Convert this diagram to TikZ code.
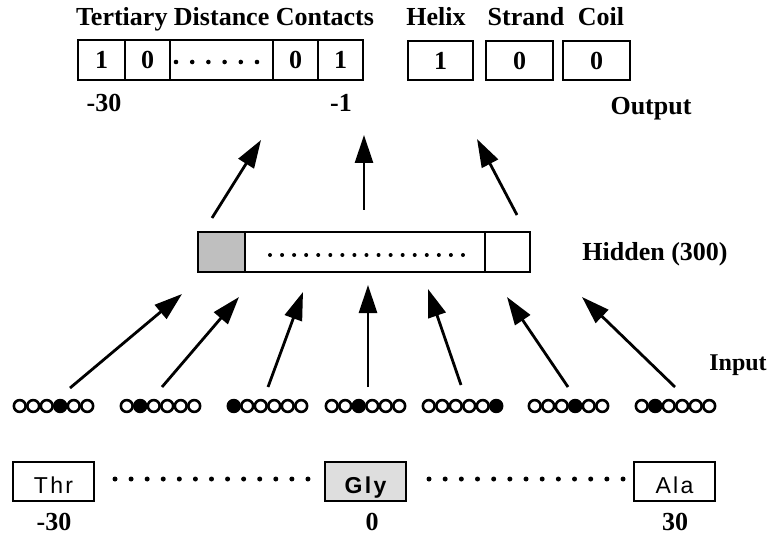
\documentclass[tikz,border=0pt]{standalone}
\usepackage{fontspec}
\setmainfont{Liberation Serif}
\newfontfamily\arialf{Liberation Sans}[LetterSpace=10]
\usetikzlibrary{arrows.meta}
\begin{document}
\begin{tikzpicture}[x=1pt,y=-1pt,
  box/.style={draw,line width=2.5pt,inner sep=0pt,font=\fontsize{26}{30}\selectfont\bfseries},
  lbl/.style={font=\fontsize{26}{30}\selectfont\bfseries,inner sep=0pt,anchor=base},
  aa/.style={box,minimum width=81pt,minimum height=39pt,text height=23pt,text depth=0pt,font=\fontsize{23}{26}\arialf},
  arr/.style={line width=2.8pt,-{Triangle[length=28pt,width=18pt]}},
  dotn/.style={fill,circle,inner sep=0pt,minimum size=4.6pt},
  ring/.style={draw,circle,line width=2.6pt,inner sep=0pt,minimum size=11.8pt}]
\useasboundingbox (0,0) rectangle (770,537);

% ---------- output layer ----------
\node[lbl] (ttl) at (225,26) {Tertiary Distance Contacts};
\node[box,minimum width=47pt,minimum height=40pt] (c1) at (101.5,60) {1};
\node[box,minimum width=45pt,minimum height=40pt] (c2) at (147.5,60) {0};
\node[box,minimum width=103pt,minimum height=40pt] (c3) at (221.5,60) {};
\node[box,minimum width=45pt,minimum height=40pt] (c4) at (295.5,60) {0};
\node[box,minimum width=45pt,minimum height=40pt] (c5) at (340.5,60) {1};
\foreach \i in {0,...,5} \node[dotn] (td\i) at (176+16.2*\i,62) {};

\node[lbl] (hx) at (436,26) {Helix};
\node[lbl] (st) at (526,26) {Strand};
\node[lbl] (cl) at (601,26) {Coil};
\node[box,minimum width=65pt,minimum height=39pt] (h1) at (440.5,60.5) {1};
\node[box,minimum width=67pt,minimum height=39pt] (h2) at (519.5,60.5) {0};
\node[box,minimum width=67pt,minimum height=39pt] (h3) at (596.5,60.5) {0};

\node[lbl] (m30) at (104,112) {-30};
\node[lbl] (m1) at (341,112) {-1};
\node[lbl] (out) at (651,115) {Output};

% ---------- hidden layer ----------
\node[box,fill=black!25,minimum width=47pt,minimum height=40pt] (hd1) at (221.5,252) {};
\node[box,minimum width=240pt,minimum height=40pt] (hd2) at (365,252) {};
\node[box,minimum width=45pt,minimum height=40pt] (hd3) at (507.5,252) {};
\foreach \i in {0,...,16} \node[dotn,minimum size=4pt] (hdd\i) at (270+12.06*\i,255) {};
\node[lbl] (hid) at (655,260) {Hidden (300)};

% hidden -> output arrows
\coordinate (ha) at (212,218); \coordinate (oa) at (261,140);
\coordinate (hb) at (364,210); \coordinate (ob) at (364,135);
\coordinate (hc) at (517,215); \coordinate (oc) at (477,139);
\draw[arr] (ha) -- (oa);
\draw[arr] (hb) -- (ob);
\draw[arr] (hc) -- (oc);

% ---------- input layer ----------
\node[lbl,font=\fontsize{24}{28}\selectfont\bfseries] (inp) at (738,370) {Input};
\foreach \g/\l/\f in {1/13/3,2/120/1,3/227/0,4/325/2,5/422/5,6/528/3,7/635/1}{
  \foreach \k in {0,...,5}{
    \ifnum\k=\f
      \node[ring,fill=black] (g\g-\k) at (\l+6.75+13.5*\k,406) {};
    \else
      \node[ring] (g\g-\k) at (\l+6.75+13.5*\k,406) {};
    \fi
  }
}
\coordinate (s1) at (70,388);  \coordinate (e1) at (182,294);
\coordinate (s2) at (162,387); \coordinate (e2) at (239,297);
\coordinate (s3) at (268,387); \coordinate (e3) at (303,292);
\coordinate (s4) at (368,387); \coordinate (e4) at (368,285);
\coordinate (s5) at (461,385); \coordinate (e5) at (428,289);
\coordinate (s6) at (568,387); \coordinate (e6) at (507,297);
\coordinate (s7) at (675,387); \coordinate (e7) at (582,297);
\foreach \i in {1,...,7} \draw[arr] (s\i) -- (e\i);

% ---------- sequence ----------
\node[aa] (thr) at (53.5,481.5) {Thr};
\node[aa,fill=black!13,font=\fontsize{23}{26}\arialf\bfseries] (gly) at (365.5,481.5) {Gly};
\node[aa] (ala) at (674.5,481.5) {Ala};
\foreach \i in {0,...,12} {
  \node[dotn,minimum size=5pt] (ld\i) at (115+16.08*\i,479) {};
  \node[dotn,minimum size=5pt] (rd\i) at (429+16.17*\i,479) {};
}
\node[lbl] (b30) at (54,530) {-30};
\node[lbl] (b0) at (372,530) {0};
\node[lbl] (p30) at (675,530) {30};
\end{tikzpicture}
\end{document}
